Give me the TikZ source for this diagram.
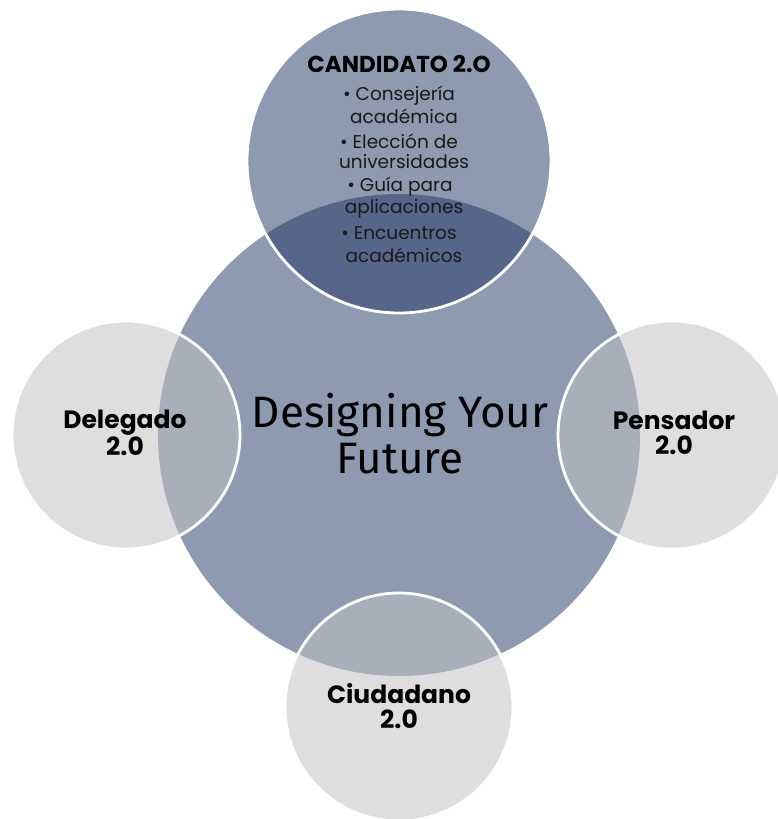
\documentclass[tikz,border=0pt]{standalone}
\usepackage{fontspec}
\setmainfont{Poppins}
\newfontfamily\titlefont{Fira Sans}
\definecolor{coreblue}{HTML}{8D9AB0}
\definecolor{darklens}{HTML}{55668A}
\definecolor{lightdisc}{HTML}{DEDEDE}
\definecolor{greylens}{HTML}{A8AEBA}
\tikzset{
  disc/.style={circle, inner sep=0pt, minimum size=#1},
  ring/.style={draw=white, line width=2.8pt},
  lbl/.style={font=\fontsize{25}{24.5}\selectfont\bfseries, align=center, text=black, inner sep=0pt},
  bul/.style={font=\fontsize{18.5}{18.5}\selectfont, text=black!90, inner sep=0pt},
}
\begin{document}
\begin{tikzpicture}[x=1pt,y=-1pt]
\useasboundingbox (0,0) rectangle (777,819);
% shapes
\node[disc=482pt, fill=coreblue] (core) at (399,435) {};
\node[disc=228pt, fill=lightdisc] (left) at (126,435) {};
\node[disc=228pt, fill=lightdisc] (right) at (672,435) {};
\node[disc=228pt, fill=lightdisc] (bottom) at (399,707) {};
\begin{scope}
  \clip (core.center) circle (241pt);
  \fill[greylens] (left.center) circle (114pt);
  \fill[greylens] (right.center) circle (114pt);
  \fill[greylens] (bottom.center) circle (114pt);
\end{scope}
\node[disc=304pt, fill=coreblue] (top) at (399,161) {};
\begin{scope}
  \clip (core.center) circle (241pt);
  \fill[darklens] (top.center) circle (152pt);
\end{scope}
\draw[ring] (left.center) circle (114pt);
\draw[ring] (right.center) circle (114pt);
\draw[ring] (bottom.center) circle (114pt);
\draw[ring] (top.center) circle (152pt);
% texts
\node[font=\titlefont\fontsize{44}{46}\selectfont, align=center, text=black, inner sep=0pt] (title) at (400,434) {Designing Your\\Future};
\node[lbl] (tlabel) at (399,64) {\fontsize{23}{23}\selectfont CANDIDATO 2.O};
\node[lbl] (llabel) at (125,433) {Delegado\\2.0};
\node[lbl] (rlabel) at (674,433) {Pensador\\2.0};
\node[lbl] (blabel) at (399,706) {Ciudadano\\2.0};
\node[bul] (b1a) at (399,96) {• Consejería};
\node[bul] (b1b) at (404,116) {académica};
\node[bul] (b2a) at (399,141) {• Elección de};
\node[bul] (b2b) at (404,162) {universidades};
\node[bul] (b3a) at (400,187) {• Guía para};
\node[bul] (b3b) at (404,209) {aplicaciones};
\node[bul] (b4a) at (399,233) {• Encuentros};
\node[bul] (b4b) at (404,255) {académicos};
\end{tikzpicture}
\end{document}
